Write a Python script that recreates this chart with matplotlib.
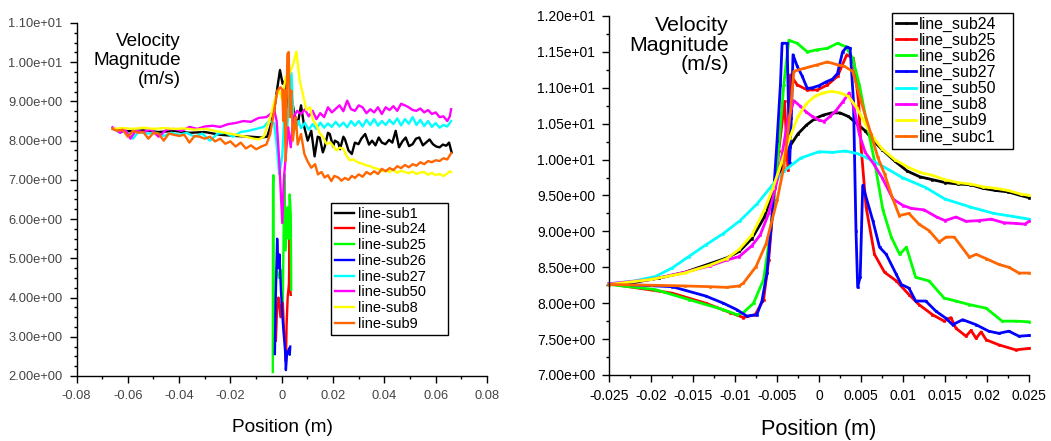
import matplotlib
matplotlib.use('Agg')
import matplotlib.pyplot as plt
from matplotlib.ticker import MultipleLocator

plt.rcParams['font.family'] = ['Liberation Sans', 'DejaVu Sans']

# ---------------- left chart: line-sub* (noisy traces) ----------------
sub1_x = [-0.066, -0.060, -0.054, -0.048, -0.042, -0.036, -0.030, -0.024, -0.018, -0.012,
          -0.008, -0.0057, -0.0045, -0.0030, -0.0017, -0.0007, 0.0003, 0.0013, 0.0022, 0.0036,
          0.0049, 0.0062, 0.0075, 0.0088, 0.0101, 0.0115, 0.0128, 0.0140, 0.0148, 0.0160,
          0.0167, 0.0180, 0.0187, 0.0200, 0.0207, 0.0220, 0.0227, 0.0240, 0.0246, 0.0260,
          0.0273, 0.0285, 0.0299, 0.0310, 0.0325, 0.0340, 0.0352, 0.0365, 0.0378, 0.0390,
          0.0404, 0.0418, 0.0431, 0.0444, 0.0457, 0.0470, 0.0483, 0.0496, 0.0510, 0.0523,
          0.0536, 0.0550, 0.0562, 0.0576, 0.0589, 0.0602, 0.0615, 0.0628, 0.0641, 0.0652,
          0.0662]
sub1_v = [8.30, 8.24, 8.26, 8.22, 8.25, 8.20, 8.22, 8.15, 8.12, 8.10,
          8.08, 8.10, 8.35, 8.76, 9.36, 9.80, 9.45, 9.53, 8.85, 9.19,
          8.68, 8.42, 8.90, 8.34, 8.00, 8.25, 7.60, 8.10, 8.08, 7.70,
          7.83, 8.20, 8.17, 7.85, 8.00, 7.95, 7.78, 8.10, 8.04, 7.75,
          7.66, 7.95, 7.91, 8.05, 8.17, 7.90, 8.00, 7.88, 8.08, 7.95,
          7.91, 8.02, 7.95, 8.25, 7.83, 7.98, 8.08, 7.86, 7.91, 8.05,
          8.08, 7.88, 7.95, 8.03, 7.91, 7.85, 7.83, 7.90, 7.87, 7.95,
          7.70]

sub24_x = [-0.0023, -0.0018, -0.0013, -0.0005, 0.0003, 0.0009, 0.0013, 0.0016, 0.0019, 0.0023,
           0.0028, 0.0031, 0.0033, 0.0035]
sub24_v = [2.90, 3.80, 4.00, 3.50, 4.07, 3.07, 2.90, 2.38, 3.33, 4.00,
           4.35, 5.70, 4.24, 4.07]

sub25_x = [-0.0035, -0.0034, -0.0033, -0.0031, -0.0029, -0.0026, -0.0020, -0.0012, -0.0004, 0.0004,
           0.0010, 0.0015, 0.0022, 0.0027, 0.0031, 0.0035, 0.0037]
sub25_v = [2.10, 6.80, 7.12, 2.60, 4.60, 4.40, 4.75, 4.50, 4.70, 3.90,
           7.14, 5.20, 6.30, 5.50, 6.63, 6.10, 4.20]

sub26_x = [-0.0027, -0.0024, -0.0018, -0.0013, -0.0009, -0.0003, 0.0003, 0.0008, 0.0013, 0.0016,
           0.0021, 0.0025, 0.0029, 0.0031, 0.0033]
sub26_v = [2.56, 3.90, 5.50, 4.75, 5.10, 4.16, 3.47, 3.05, 2.64, 2.15,
           2.62, 2.64, 2.71, 2.54, 2.75]

sub27_x = [-0.066, -0.063, -0.061, -0.058, -0.056, -0.052, -0.049, -0.046, -0.043, -0.040,
           -0.037, -0.034, -0.031, -0.028, -0.025, -0.022, -0.019, -0.016, -0.013, -0.010,
           -0.007, -0.005, -0.003, -0.002, -0.001, 0.0002, 0.001, 0.002, 0.003, 0.0038,
           0.0045, 0.0055, 0.0065, 0.0075, 0.009, 0.0105, 0.012, 0.0135, 0.015, 0.0165,
           0.018, 0.0195, 0.021, 0.0225, 0.024, 0.0255, 0.027, 0.0285, 0.030, 0.0315,
           0.033, 0.0345, 0.036, 0.0375, 0.039, 0.0405, 0.042, 0.0435, 0.045, 0.0465,
           0.048, 0.0495, 0.051, 0.0525, 0.054, 0.0555, 0.057, 0.0585, 0.060, 0.0615,
           0.063, 0.0645, 0.066]
sub27_v = [8.32, 8.20, 8.25, 8.05, 8.22, 8.18, 8.20, 8.12, 8.20, 8.15,
           8.20, 8.10, 8.18, 8.00, 8.18, 8.20, 8.10, 8.22, 8.25, 8.30,
           8.35, 8.50, 8.45, 7.90, 7.14, 7.60, 8.70, 8.20, 9.20, 9.72,
           8.60, 8.30, 8.50, 8.32, 8.45, 8.28, 8.42, 8.30, 8.46, 8.33,
           8.44, 8.35, 8.48, 8.36, 8.46, 8.34, 8.50, 8.38, 8.50, 8.36,
           8.53, 8.40, 8.55, 8.38, 8.50, 8.40, 8.53, 8.42, 8.57, 8.39,
           8.55, 8.43, 8.60, 8.40, 8.53, 8.37, 8.50, 8.35, 8.45, 8.33,
           8.40, 8.36, 8.50]

sub50_x = [-0.066, -0.063, -0.061, -0.059, -0.057, -0.054, -0.051, -0.048, -0.045, -0.042,
           -0.039, -0.036, -0.033, -0.030, -0.027, -0.024, -0.021, -0.018, -0.015, -0.012,
           -0.009, -0.006, -0.004, -0.003, -0.002, -0.001, 0.0002, 0.0008, 0.0015, 0.0025,
           0.0035, 0.0045, 0.006, 0.0075, 0.009, 0.0105, 0.012, 0.0135, 0.015, 0.0165,
           0.018, 0.0195, 0.021, 0.0225, 0.024, 0.0255, 0.027, 0.0285, 0.030, 0.0315,
           0.033, 0.0345, 0.036, 0.0375, 0.039, 0.0405, 0.042, 0.0435, 0.045, 0.0465,
           0.048, 0.0495, 0.051, 0.0525, 0.054, 0.0555, 0.057, 0.0585, 0.060, 0.0615,
           0.063, 0.0645, 0.0655, 0.066]
sub50_v = [8.34, 8.20, 8.28, 8.05, 8.25, 8.22, 8.28, 8.10, 8.28, 8.30,
           8.25, 8.35, 8.30, 8.36, 8.38, 8.35, 8.42, 8.45, 8.50, 8.48,
           8.58, 8.60, 8.70, 8.80, 8.50, 7.50, 5.90, 7.00, 7.57, 8.34,
           7.83, 8.60, 8.76, 8.68, 8.80, 8.62, 8.76, 8.55, 8.70, 8.60,
           8.85, 8.72, 8.81, 8.90, 8.75, 9.02, 8.80, 8.76, 8.90, 8.85,
           8.70, 8.80, 8.72, 8.85, 8.68, 8.85, 8.78, 8.88, 8.76, 8.94,
           8.90, 8.85, 8.78, 8.76, 8.82, 8.72, 8.78, 8.68, 8.72, 8.60,
           8.62, 8.50, 8.62, 8.80]

sub8_x = [-0.066, -0.062, -0.058, -0.054, -0.050, -0.046, -0.042, -0.038, -0.034, -0.030,
          -0.026, -0.022, -0.018, -0.014, -0.011, -0.009, -0.007, -0.0055, -0.004, -0.0025,
          -0.001, 0.0002, 0.0015, 0.003, 0.0045, 0.0057, 0.007, 0.0085, 0.0096, 0.011,
          0.0122, 0.0135, 0.0148, 0.016, 0.0174, 0.019, 0.0213, 0.0226, 0.0239, 0.0252,
          0.0265, 0.028, 0.0295, 0.031, 0.033, 0.0345, 0.036, 0.0375, 0.039, 0.0407,
          0.042, 0.0435, 0.045, 0.0465, 0.048, 0.0495, 0.051, 0.0525, 0.054, 0.0555,
          0.057, 0.0585, 0.060, 0.0615, 0.063, 0.0645, 0.0655, 0.066]
sub8_v = [8.30, 8.32, 8.30, 8.33, 8.30, 8.32, 8.30, 8.31, 8.28, 8.30,
          8.25, 8.20, 8.15, 8.10, 8.05, 8.03, 8.10, 8.40, 8.70, 9.10,
          9.28, 9.05, 9.62, 9.70, 9.96, 10.27, 9.53, 9.10, 8.78, 8.85,
          8.52, 8.40, 8.19, 8.10, 7.92, 7.95, 7.75, 7.82, 7.80, 7.62,
          7.50, 7.52, 7.45, 7.42, 7.37, 7.35, 7.30, 7.28, 7.22, 7.24,
          7.20, 7.26, 7.18, 7.23, 7.20, 7.17, 7.21, 7.15, 7.19, 7.20,
          7.13, 7.18, 7.12, 7.15, 7.10, 7.16, 7.22, 7.20]

sub9_x = [-0.066, -0.064, -0.062, -0.060, -0.058, -0.056, -0.054, -0.052, -0.050, -0.048,
          -0.046, -0.044, -0.042, -0.040, -0.038, -0.036, -0.034, -0.032, -0.030, -0.028,
          -0.026, -0.024, -0.022, -0.020, -0.018, -0.016, -0.014, -0.012, -0.010, -0.008,
          -0.006, -0.0045, -0.003, -0.0017, -0.0005, 0.0002, 0.0006, 0.001, 0.0015, 0.0022,
          0.0027, 0.0032, 0.0037, 0.0043, 0.0049, 0.0055, 0.0062, 0.0075, 0.0088, 0.010,
          0.0115, 0.013, 0.0141, 0.0155, 0.0167, 0.018, 0.0193, 0.0205, 0.022, 0.0233,
          0.0246, 0.026, 0.0273, 0.0285, 0.030, 0.0315, 0.033, 0.0345, 0.036, 0.0375,
          0.039, 0.0405, 0.042, 0.0435, 0.045, 0.0465, 0.048, 0.0495, 0.051, 0.0525,
          0.054, 0.0555, 0.057, 0.0585, 0.060, 0.0615, 0.063, 0.0645, 0.066]
sub9_v = [8.30, 8.25, 8.28, 8.10, 8.25, 8.20, 8.22, 8.05, 8.20, 8.18,
          8.00, 8.18, 8.15, 8.12, 8.15, 7.95, 8.12, 8.10, 8.05, 8.10,
          7.98, 8.05, 7.92, 7.98, 7.85, 7.95, 7.80, 7.88, 7.78, 7.85,
          7.90, 8.17, 8.76, 9.28, 9.36, 9.30, 8.50, 9.30, 7.48, 10.21,
          10.26, 8.60, 9.28, 8.00, 8.34, 8.60, 7.90, 8.17, 7.66, 7.48,
          7.31, 7.40, 7.14, 7.20, 7.06, 7.12, 6.97, 7.10, 7.06, 6.98,
          7.05, 7.00, 7.10, 7.05, 7.14, 7.08, 7.20, 7.14, 7.22, 7.15,
          7.28, 7.22, 7.30, 7.25, 7.35, 7.30, 7.38, 7.32, 7.40, 7.36,
          7.45, 7.40, 7.48, 7.45, 7.50, 7.48, 7.55, 7.52, 7.68]

# ---------------- right chart: line_sub* (smooth traces) ----------------
r24_x = [-0.025, -0.022, -0.019, -0.016, -0.013, -0.011, -0.0095, -0.008, -0.0065, -0.0055,
         -0.0045, -0.0035, -0.0025, -0.0015, -0.0005, 0.0005, 0.0015, 0.0025, 0.0035, 0.0045,
         0.0055, 0.0065, 0.0075, 0.009, 0.0105, 0.012, 0.0135, 0.015, 0.0165, 0.018,
         0.0195, 0.021, 0.0225, 0.024, 0.025]
r24_v = [8.26, 8.29, 8.35, 8.43, 8.55, 8.63, 8.72, 8.90, 9.20, 9.55,
         9.88, 10.18, 10.36, 10.48, 10.57, 10.62, 10.65, 10.65, 10.60, 10.50,
         10.40, 10.26, 10.14, 9.98, 9.84, 9.76, 9.72, 9.68, 9.66, 9.65,
         9.60, 9.57, 9.55, 9.50, 9.47]

r25_x = [-0.025, -0.0175, -0.0135, -0.0106, -0.009, -0.0076, -0.0066, -0.006, -0.0054, -0.0048,
         -0.0041, -0.0037, -0.0034, -0.0026, -0.0014, -0.0002, 0.001, 0.0022, 0.0033, 0.0041,
         0.0047, 0.005, 0.0056, 0.0066, 0.0078, 0.0092, 0.0107, 0.0119, 0.0135, 0.0149,
         0.0157, 0.0163, 0.0175, 0.0181, 0.0187, 0.0193, 0.0199, 0.0214, 0.0234, 0.025]
r25_v = [8.27, 8.14, 8.00, 7.87, 7.80, 7.84, 8.05, 8.60, 9.43, 10.12,
         10.81, 9.85, 11.18, 11.04, 10.97, 10.97, 11.04, 11.16, 11.46, 11.41,
         10.81, 10.18, 9.34, 8.68, 8.43, 8.31, 8.12, 7.98, 7.84, 7.75,
         7.80, 7.65, 7.54, 7.62, 7.51, 7.60, 7.49, 7.42, 7.35, 7.37]

r26_x = [-0.025, -0.0195, -0.0155, -0.0114, -0.0098, -0.009, -0.0078, -0.0066, -0.0058, -0.005,
         -0.0042, -0.0036, -0.0026, -0.0014, -0.0002, 0.001, 0.0022, 0.0032, 0.004, 0.0048,
         0.0058, 0.0066, 0.0076, 0.0086, 0.0096, 0.0104, 0.0115, 0.0131, 0.0149, 0.0163,
         0.0179, 0.0199, 0.0218, 0.0234, 0.025]
r26_v = [8.26, 8.19, 8.05, 7.91, 7.84, 7.87, 8.00, 8.33, 8.97, 9.89,
         11.04, 11.66, 11.62, 11.50, 11.53, 11.55, 11.62, 11.57, 11.41, 11.04,
         10.44, 9.98, 9.30, 8.92, 8.68, 8.78, 8.36, 8.31, 8.07, 8.03,
         7.98, 7.93, 7.75, 7.75, 7.74]

r27_x = [-0.025, -0.0175, -0.0135, -0.0114, -0.0098, -0.0086, -0.0074, -0.0068, -0.0062, -0.0056,
         -0.005, -0.0046, -0.0044, -0.0038, -0.0035, -0.0033, -0.0031, -0.0026, -0.002, -0.0014,
         -0.0008, 0.0, 0.0008, 0.0016, 0.0022, 0.0028, 0.0033, 0.0037, 0.0041, 0.0044,
         0.0046, 0.0049, 0.0052, 0.0064, 0.0072, 0.008, 0.0092, 0.0098, 0.0107, 0.0115,
         0.0127, 0.0139, 0.0151, 0.0159, 0.0171, 0.0187, 0.0202, 0.0214, 0.0226, 0.0238,
         0.025]
r27_v = [8.27, 8.23, 8.10, 8.00, 7.91, 7.82, 7.84, 8.03, 8.42, 9.20,
         10.26, 11.04, 11.62, 11.62, 9.95, 10.58, 11.46, 11.30, 11.16, 10.99,
         11.00, 11.03, 11.08, 11.12, 11.20, 11.50, 11.57, 11.55, 10.81, 9.00,
         8.22, 8.37, 9.64, 9.15, 8.78, 8.68, 8.40, 8.26, 8.21, 8.03,
         8.03, 7.89, 7.79, 7.70, 7.77, 7.70, 7.61, 7.58, 7.61, 7.54,
         7.55]

r50_x = [-0.025, -0.022, -0.0195, -0.0175, -0.0155, -0.0135, -0.0114, -0.0094, -0.0074, -0.0058,
         -0.0042, -0.0022, 0.0, 0.0016, 0.0031, 0.0047, 0.0071, 0.0099, 0.0127, 0.015,
         0.018, 0.0208, 0.023, 0.025]
r50_v = [8.27, 8.31, 8.37, 8.49, 8.65, 8.81, 8.97, 9.15, 9.38, 9.61,
         9.84, 10.02, 10.11, 10.10, 10.12, 10.08, 9.94, 9.75, 9.61, 9.45,
         9.34, 9.25, 9.21, 9.17]

r8_x = [-0.025, -0.02, -0.016, -0.013, -0.011, -0.0095, -0.008, -0.007, -0.006, -0.0052,
        -0.0045, -0.0038, -0.003, -0.0023, -0.0015, -0.0008, 0.0, 0.0006, 0.0013, 0.002,
        0.0028, 0.0036, 0.0042, 0.0048, 0.0055, 0.0065, 0.0075, 0.0088, 0.010, 0.011,
        0.0125, 0.014, 0.015, 0.0163, 0.0175, 0.019, 0.0205, 0.022, 0.0235, 0.0245,
        0.025]
r8_v = [8.27, 8.33, 8.43, 8.52, 8.60, 8.65, 8.80, 8.95, 9.25, 9.60,
        10.00, 10.50, 10.82, 10.75, 10.66, 10.60, 10.55, 10.53, 10.60, 10.68,
        10.80, 10.93, 10.70, 10.35, 10.10, 9.94, 9.75, 9.45, 9.36, 9.32,
        9.30, 9.20, 9.15, 9.20, 9.14, 9.15, 9.17, 9.12, 9.11, 9.10,
        9.14]

r9_x = [-0.025, -0.02, -0.016, -0.013, -0.011, -0.0095, -0.008, -0.0065, -0.0055, -0.0045,
        -0.0035, -0.0025, -0.0015, -0.0005, 0.0005, 0.0015, 0.0025, 0.0035, 0.0045, 0.0055,
        0.0065, 0.0075, 0.009, 0.0105, 0.012, 0.0135, 0.015, 0.0165, 0.018, 0.0195,
        0.021, 0.0225, 0.024, 0.025]
r9_v = [8.26, 8.33, 8.42, 8.53, 8.62, 8.75, 8.95, 9.30, 9.60, 9.95,
        10.30, 10.60, 10.78, 10.88, 10.93, 10.95, 10.93, 10.88, 10.72, 10.50,
        10.30, 10.15, 10.00, 9.90, 9.82, 9.78, 9.72, 9.68, 9.66, 9.62,
        9.60, 9.57, 9.52, 9.50]

rc1_x = [-0.025, -0.02, -0.016, -0.013, -0.011, -0.0095, -0.009, -0.0075, -0.0063, -0.005,
         -0.0042, -0.0034, -0.003, -0.0018, -0.0002, 0.001, 0.0022, 0.003, 0.004, 0.005,
         0.0062, 0.007, 0.0078, 0.0087, 0.00955, 0.0107, 0.0119, 0.0131, 0.0143, 0.0151,
         0.0161, 0.0179, 0.0187, 0.0199, 0.0214, 0.0226, 0.0238, 0.025]
rc1_v = [8.26, 8.25, 8.24, 8.23, 8.22, 8.24, 8.28, 8.51, 8.83, 9.43,
         9.89, 10.67, 11.23, 11.27, 11.32, 11.36, 11.32, 11.30, 11.23, 10.81,
         10.35, 10.03, 9.80, 9.48, 9.22, 9.25, 9.10, 9.01, 8.85, 8.92,
         8.92, 8.64, 8.68, 8.62, 8.54, 8.50, 8.42, 8.42]

# ticks
left_xticks = [-0.08, -0.06, -0.04, -0.02, 0.0, 0.02, 0.04, 0.06, 0.08]
left_xlabels = ['-0.08', '-0.06', '-0.04', '-0.02', '0', '0.02', '0.04', '0.06', '0.08']
left_yticks = [2, 3, 4, 5, 6, 7, 8, 9, 10, 11]
right_xticks = [-0.025, -0.02, -0.015, -0.01, -0.005, 0.0, 0.005, 0.01, 0.015, 0.02, 0.025]
right_xlabels = ['-0.025', '-0.02', '-0.015', '-0.01', '-0.005', '0', '0.005', '0.01',
                 '0.015', '0.02', '0.025']
right_yticks = [7.0, 7.5, 8.0, 8.5, 9.0, 9.5, 10.0, 10.5, 11.0, 11.5, 12.0]

left_series = [
    (sub1_x, sub1_v, 'line-sub1', '#000000'),
    (sub24_x, sub24_v, 'line-sub24', '#ff0000'),
    (sub25_x, sub25_v, 'line-sub25', '#00ff00'),
    (sub26_x, sub26_v, 'line-sub26', '#0000ff'),
    (sub27_x, sub27_v, 'line-sub27', '#00ffff'),
    (sub50_x, sub50_v, 'line-sub50', '#ff00ff'),
    (sub8_x, sub8_v, 'line-sub8', '#ffff00'),
    (sub9_x, sub9_v, 'line-sub9', '#ff6600'),
]
right_series = [
    (r24_x, r24_v, 'line_sub24', '#000000'),
    (r25_x, r25_v, 'line_sub25', '#ff0000'),
    (r26_x, r26_v, 'line_sub26', '#00ff00'),
    (r27_x, r27_v, 'line_sub27', '#0000ff'),
    (r50_x, r50_v, 'line_sub50', '#00ffff'),
    (r8_x, r8_v, 'line_sub8', '#ff00ff'),
    (r9_x, r9_v, 'line_sub9', '#ffff00'),
    (rc1_x, rc1_v, 'line_subc1', '#ff6600'),
]

fig = plt.figure(figsize=(10.51, 4.41), dpi=100)
axL = fig.add_axes([0.0728, 0.1474, 0.3906, 0.8005])
axR = fig.add_axes([0.5795, 0.1497, 0.3996, 0.8141])

for x, v, name, c in left_series:
    axL.plot(x, v, color=c, lw=1.7, label=name)
for x, v, name, c in right_series:
    axR.plot(x, v, color=c, lw=2.0, marker='s', ms=1.6, mew=0.4, label=name, clip_on=False)


def style_axes(ax, xt, xl, yt, xminor, yminor, size, tcolor):
    for s in ['top', 'right']:
        ax.spines[s].set_visible(False)
    for s in ['left', 'bottom']:
        ax.spines[s].set_linewidth(1.0)
    ax.set_xlim(xt[0], xt[-1])
    ax.set_ylim(yt[0], yt[-1])
    ax.set_xticks(xt)
    ax.set_xticklabels(xl)
    ax.set_yticks(yt)
    ax.set_yticklabels(['%.2e' % t for t in yt])
    ax.xaxis.set_minor_locator(MultipleLocator(xminor))
    ax.yaxis.set_minor_locator(MultipleLocator(yminor))
    ax.tick_params(which='major', direction='out', length=5, width=1,
                   labelsize=size, labelcolor=tcolor, pad=5)
    ax.tick_params(which='minor', direction='out', length=2.5, width=1)


style_axes(axL, left_xticks, left_xlabels, left_yticks, 0.01, 0.25, 9.3, '#444444')
style_axes(axR, right_xticks, right_xlabels, right_yticks, 0.0025, 0.25, 10, '#000000')

legL = axL.legend(loc='upper left', bbox_to_anchor=(0.62, 0.11, 0.285, 0.38), mode='expand',
                  fancybox=False, edgecolor='black', framealpha=1, fontsize=10.5,
                  handlelength=1.35, handletextpad=0.25, labelspacing=0.12, borderpad=0.25,
                  borderaxespad=0)
legL.get_frame().set_linewidth(1.0)
legR = axR.legend(loc='upper left', bbox_to_anchor=(0.674, 0.622, 0.288, 0.387), mode='expand',
                  fancybox=False, edgecolor='black', framealpha=1, fontsize=11.5,
                  handlelength=1.25, handletextpad=0.2, labelspacing=0.06, borderpad=0.25,
                  borderaxespad=0, numpoints=1)
legR.get_frame().set_linewidth(1.0)

fig.text(181 / 1051, 1 - 33 / 441, 'Velocity\nMagnitude\n(m/s)', ha='right', va='top',
         fontsize=13.6, linespacing=1.15, multialignment='right')
fig.text(729 / 1051, 1 - 16 / 441, 'Velocity\nMagnitude\n(m/s)', ha='right', va='top',
         fontsize=15.4, linespacing=1.04, multialignment='right')
fig.text(282 / 1051, 1 - 427 / 441, 'Position (m)', ha='center', va='center', fontsize=13.7)
fig.text(819 / 1051, 1 - 429 / 441, 'Position (m)', ha='center', va='center', fontsize=15.6)

fig.savefig('out.png', dpi=100, facecolor='white')
